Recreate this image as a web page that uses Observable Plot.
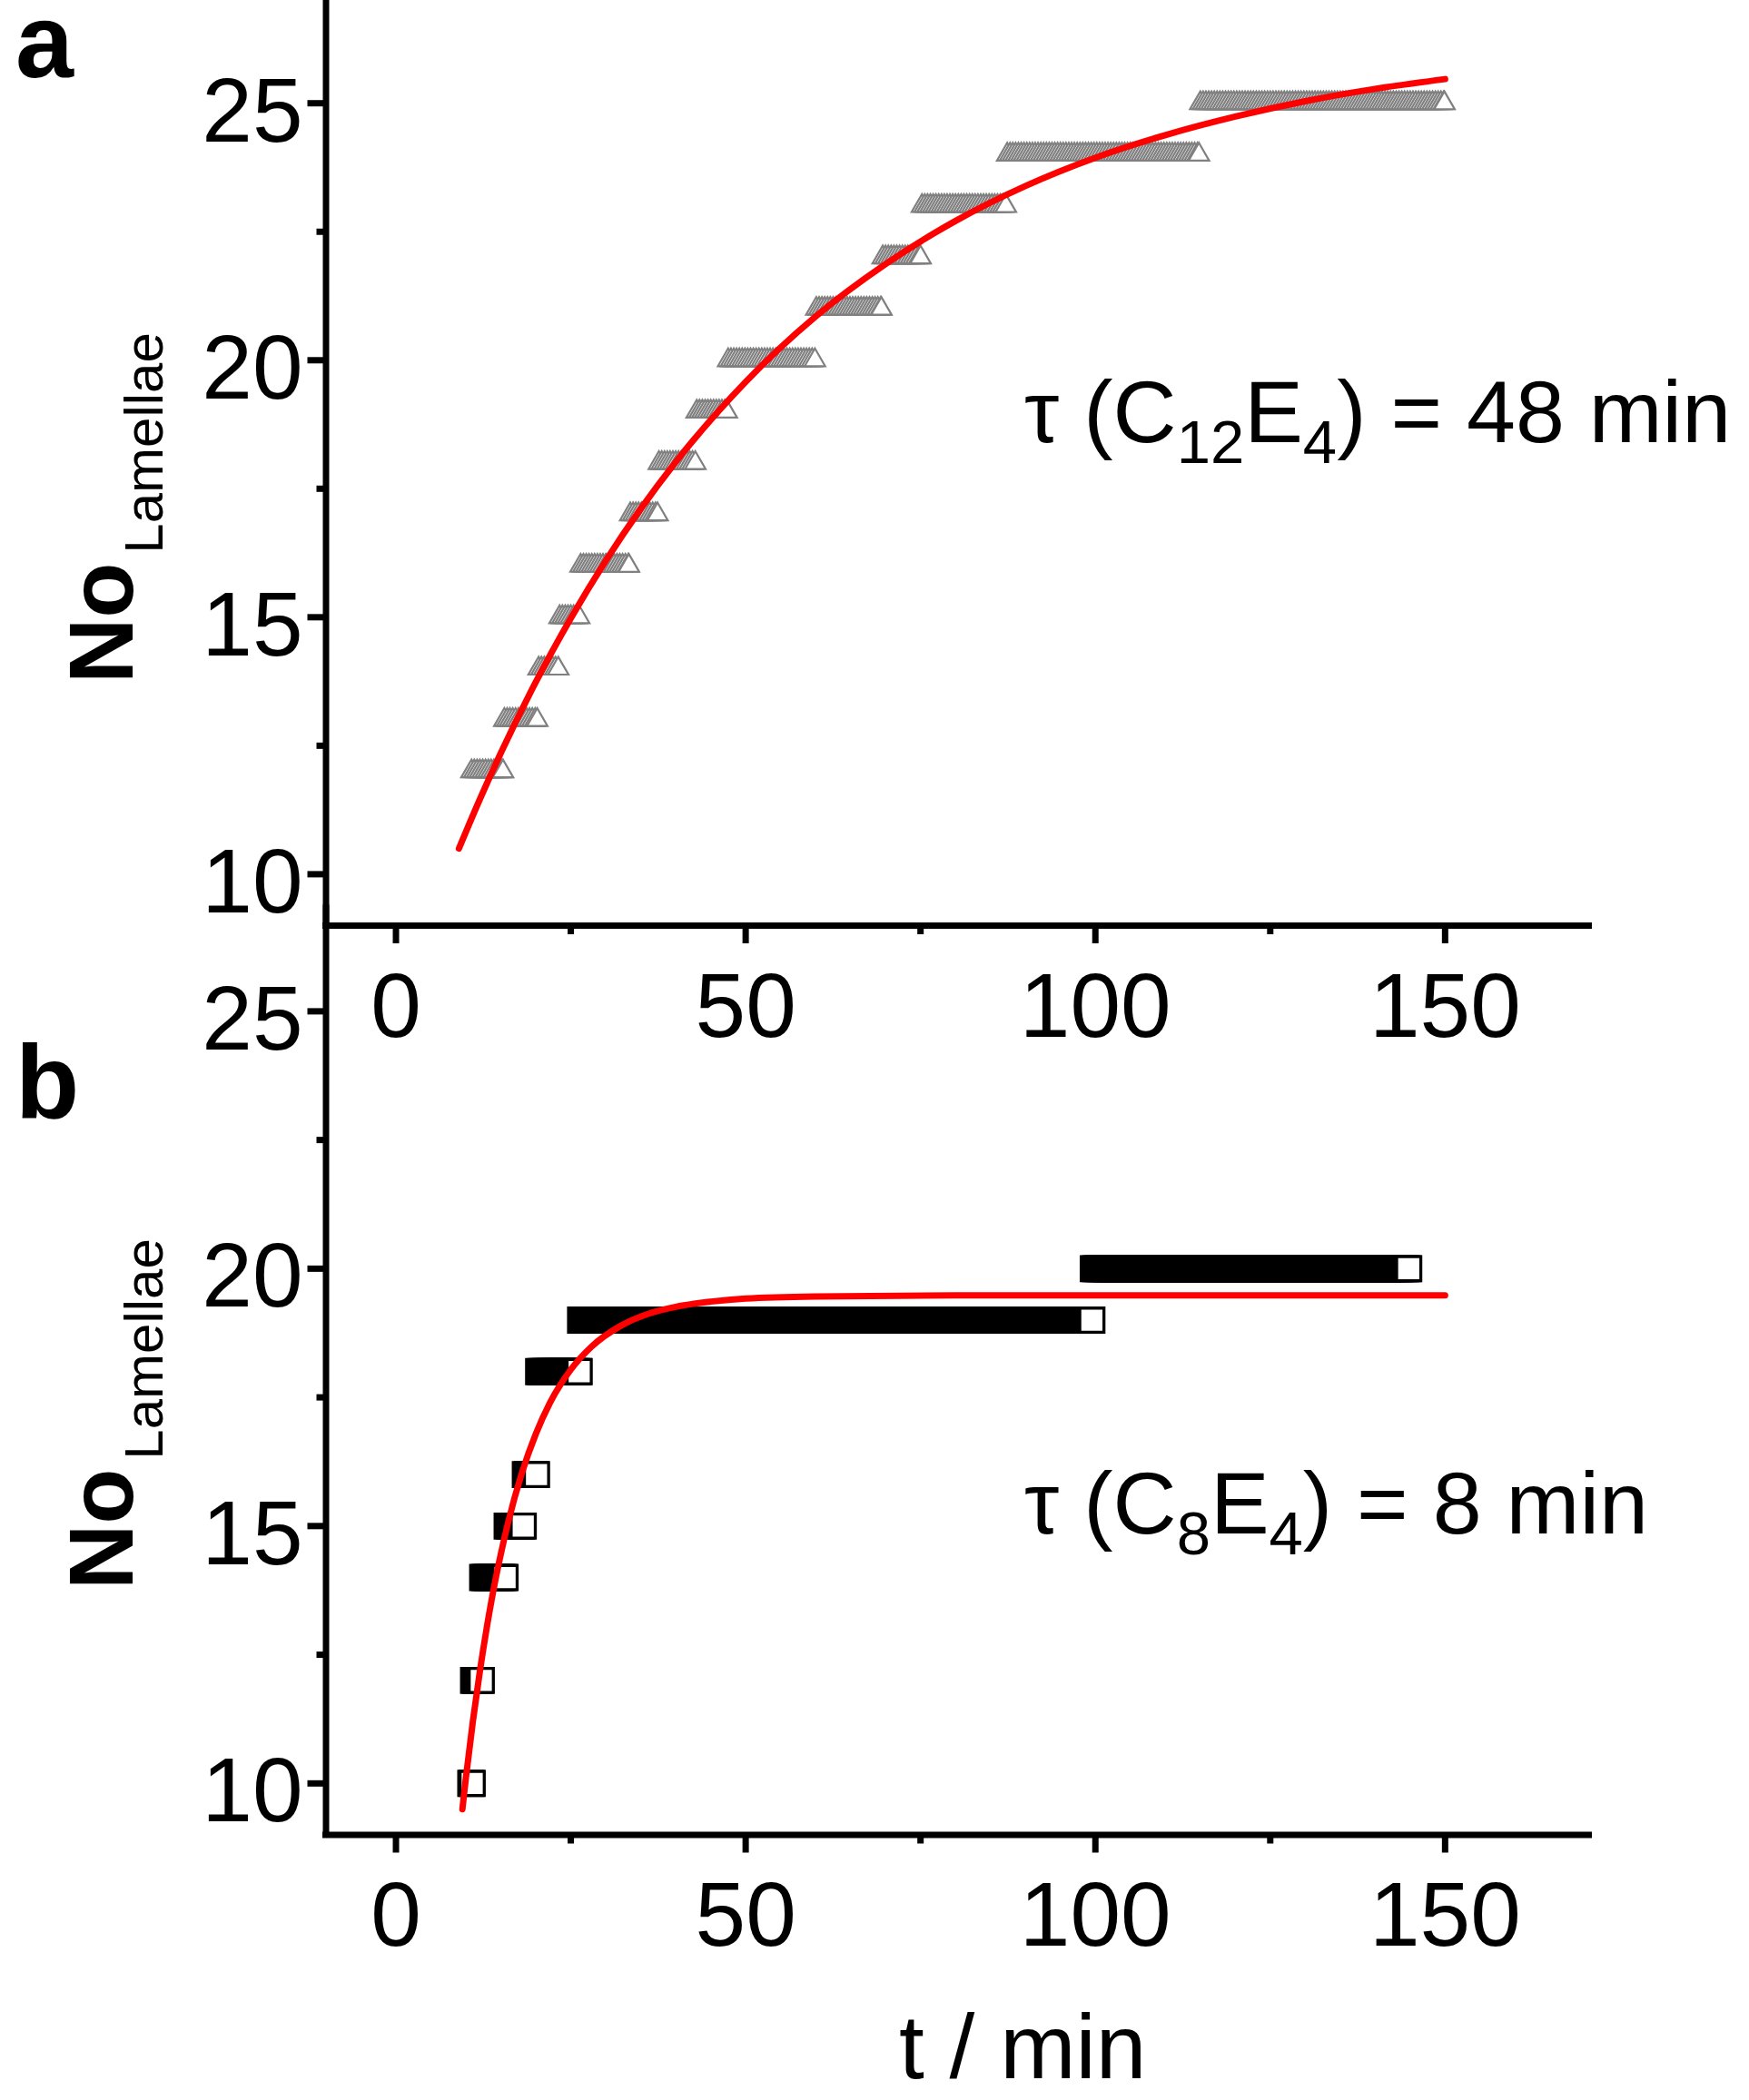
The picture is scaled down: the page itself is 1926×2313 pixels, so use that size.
<!DOCTYPE html>
<html>
<head>
<meta charset="utf-8">
<script src="https://cdn.jsdelivr.net/npm/d3@7"></script>
<script src="https://cdn.jsdelivr.net/npm/@observablehq/plot@0.6"></script>
<style>
  html, body { margin: 0; padding: 0; background: #fff; overflow: hidden; }
  #wrap { position: relative; width: 1926px; height: 2313px; overflow: hidden; background: #fff; }
  #wrap svg { position: absolute; left: 0; }
</style>
</head>
<body>
<div id="wrap"></div>
<script>
// ---------------- data ----------------
// time between successive video frames (min)
const frameStepA = 0.4;
const frameStepB = 0.3;

// panel a : C12E4 (triangles) — plateau level, first and last frame time
const levelsA = [12, 13, 14, 15, 16, 17, 18, 19, 20, 21, 22, 23, 24, 25];
const startA  = [10.8, 15.5, 20.4, 23.4, 26.4, 33.5, 37.6, 43.0, 47.5, 60.1, 69.6, 75.2, 87.4, 115.0];
const endA    = [15.3, 20.2, 23.2, 26.2, 33.3, 37.4, 42.8, 47.3, 59.9, 69.4, 75.0, 87.2, 114.8, 149.9];

// panel b : C8E4 (squares)
const levelsB = [10, 12, 14, 15, 16, 18, 19, 20];
const startB  = [10.7, 11.1, 12.4, 15.9, 18.5, 20.4, 26.4, 99.7];
const endB    = [10.9, 12.2, 15.6, 18.2, 20.1, 26.2, 99.5, 144.8];

// exponential fit curves (red)
const fitTA = [9, 12, 15, 20, 25, 30, 35, 40, 50, 60, 70, 80, 90, 100, 110, 120, 130, 140, 150];
const fitNA = [10.50, 11.46, 12.36, 13.74, 14.98, 16.10, 17.11, 18.02, 19.58, 20.85, 21.87, 22.71, 23.39, 23.94, 24.38, 24.74, 25.04, 25.28, 25.47];
const fitTB = [9.5, 10, 11, 12, 13, 14, 15, 16, 18, 20, 22, 25, 28, 32, 36, 40, 45, 50, 60, 80, 110, 150];
const fitNB = [9.50, 10.11, 11.21, 12.18, 13.04, 13.80, 14.46, 15.05, 16.03, 16.79, 17.39, 18.04, 18.49, 18.88, 19.12, 19.26, 19.36, 19.42, 19.46, 19.48, 19.48, 19.48];

// axes
const xTicks = [0, 50, 100, 150];
const xMinor = [25, 75, 125];
const yTicks = [10, 15, 20, 25];
const yMinor = [12.5, 17.5, 22.5];
const xDomain = [-10, 170.6];
const yDomain = [9, 27];

// ---------------- helpers ----------------
function framesOf(levels, starts, ends, step) {
  const out = [];
  levels.forEach((n, i) => {
    for (let t = starts[i]; t < ends[i] - 1e-9; t += step) out.push({t, n});
    out.push({t: ends[i], n});
  });
  return out;
}

const FONT = "'Liberation Sans', Arial, Helvetica, sans-serif";
const fmt = d => String(d);

function panel({pts, symbol, r, color, sw, fitT, fitN, height, marginBottom}) {
  const fit = fitT.map((t, i) => ({t, n: fitN[i]}));
  return Plot.plot({
    width: 1926,
    height,
    marginLeft: 358.5,
    marginRight: 1926 - 1749.5,
    marginTop: 0,
    marginBottom,
    style: {background: "transparent", fontFamily: FONT, color: "#000", overflow: "visible"},
    x: {domain: xDomain, axis: null},
    y: {domain: yDomain, axis: null},
    marks: [
      Plot.dot(pts, {x: "t", y: "n", symbol, r, stroke: color, strokeWidth: sw, fill: "white"}),
      Plot.line(fit, {x: "t", y: "n", stroke: "#ff0000", strokeWidth: 7, curve: "monotone-x"}),
      Plot.ruleX([xDomain[0]], {stroke: "#000", strokeWidth: 7, strokeLinecap: "square"}),
      Plot.ruleY([yDomain[0]], {stroke: "#000", strokeWidth: 7, strokeLinecap: "square"}),
      Plot.axisY(yTicks, {fill: "none", stroke: "#000", tickSize: 20, strokeWidth: 7, label: null}),
      Plot.axisY(yMinor, {fill: "none", stroke: "#000", tickSize: 10, strokeWidth: 7, label: null}),
      Plot.axisY(yTicks, {stroke: "none", fill: "#000", tickSize: 20, tickPadding: 5.5, dy: 10, fontSize: 100, tickFormat: fmt, label: null}),
      Plot.axisX(xTicks, {anchor: "bottom", fill: "none", stroke: "#000", tickSize: 20, strokeWidth: 7, label: null}),
      Plot.axisX(xMinor, {anchor: "bottom", fill: "none", stroke: "#000", tickSize: 10, strokeWidth: 7, label: null}),
      Plot.axisX(xTicks, {anchor: "bottom", stroke: "none", fill: "#000", tickSize: 20, tickPadding: 31, fontSize: 100, tickFormat: fmt, label: null})
    ]
  });
}

function baseText(svg) {
  return d3.select(svg).append("text")
    .attr("font-family", FONT).attr("fill", "#000").attr("text-anchor", "start");
}

function yLabel(svg, x, y) {
  const t = baseText(svg).attr("transform", `translate(${x},${y}) rotate(-90)`);
  t.append("tspan").attr("font-weight", "bold").attr("font-size", 100).text("No");
  t.append("tspan").attr("font-size", 60).attr("dx", 10).attr("dy", 33).text("Lamellae");
}

function tauLabel(svg, x, y, parts) {
  const t = baseText(svg).attr("x", x).attr("y", y).attr("font-size", 97);
  let shifted = false;
  parts.forEach(([txt, sub]) => {
    const s = t.append("tspan").text(txt);
    if (sub) {
      s.attr("font-size", 67);
      if (!shifted) { s.attr("dy", 23); shifted = true; }
    } else if (shifted) {
      s.attr("dy", -23); shifted = false;
    }
  });
}

function letter(svg, x, y, txt) {
  baseText(svg).attr("x", x).attr("y", y)
    .attr("font-weight", "bold").attr("font-size", 115).text(txt);
}

const wrap = document.getElementById("wrap");
const topB = 999.5;

// ---------------- panel a ----------------
const svgA = panel({
  pts: framesOf(levelsA, startA, endA, frameStepA),
  symbol: "triangle", r: 8.4, color: "#808080", sw: 2.2,
  fitT: fitTA, fitN: fitNA,
  height: 1170, marginBottom: 151
});
svgA.style.top = "0px";
yLabel(svgA, 145.7, 753);
letter(svgA, 17, 85, "a");
tauLabel(svgA, 1128, 487, [["τ (C", false], ["12", true], ["E", false], ["4", true], [") = 48 min", false]]);
wrap.appendChild(svgA);

// ---------------- panel b ----------------
const svgB = panel({
  pts: framesOf(levelsB, startB, endB, frameStepB),
  symbol: "square", r: 15, color: "#000", sw: 3.3,
  fitT: fitTB, fitN: fitNB,
  height: 2313 - topB, marginBottom: 2313 - 2020
});
svgB.style.top = topB + "px";
yLabel(svgB, 145.7, 751);
letter(svgB, 17, 1231 - topB, "b");
tauLabel(svgB, 1128, 1688 - topB, [["τ (C", false], ["8", true], ["E", false], ["4", true], [") = 8 min", false]]);
baseText(svgB).attr("x", 990).attr("y", 2288 - topB).attr("font-size", 100).text("t / min");
wrap.appendChild(svgB);
</script>
</body>
</html>
